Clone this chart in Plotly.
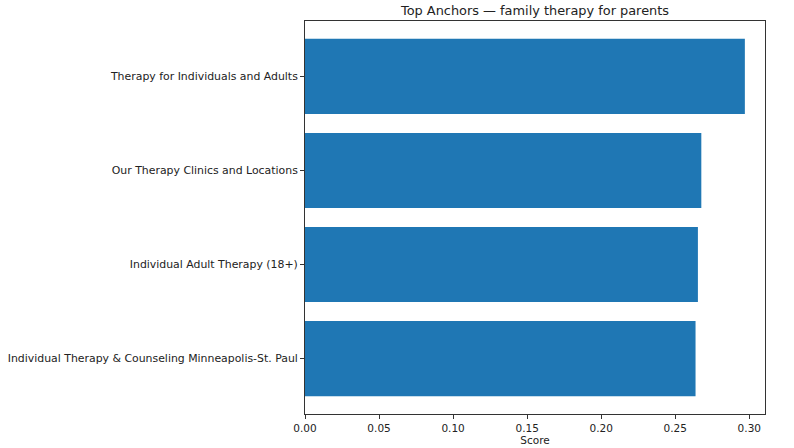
import plotly.graph_objects as go

labels = [
    "Therapy for Individuals and Adults",
    "Our Therapy Clinics and Locations",
    "Individual Adult Therapy (18+)",
    "Individual Therapy & Counseling Minneapolis-St. Paul",
]
scores = [0.2970, 0.2676, 0.2653, 0.2637]
x_ticks = [0.00, 0.05, 0.10, 0.15, 0.20, 0.25, 0.30]
title = "Top Anchors — family therapy for parents"
x_label = "Score"

font = "DejaVu Sans"
fig = go.Figure(
    go.Bar(
        x=scores,
        y=labels,
        orientation="h",
        width=0.8,
        marker=dict(color="#1f77b4", line=dict(width=0)),
    )
)
xmax = 0.3106
fig.update_layout(
    width=794,
    height=448,
    margin=dict(l=305, r=29, t=21, b=34, autoexpand=False),
    paper_bgcolor="white",
    plot_bgcolor="white",
    showlegend=False,
    font=dict(family=font, size=10, color="#222"),
    title=dict(
        text=title,
        x=(305 + 765) / 2 / 794,
        xanchor="center",
        xref="container",
        yref="container",
        y=1 - 10 / 448,
        yanchor="middle",
        automargin=False,
        font=dict(family=font, size=12.9, color="#222"),
    ),
)
fig.update_xaxes(
    range=[0, xmax],
    tickvals=x_ticks,
    tickformat=".2f",
    ticks="outside",
    ticklen=4,
    tickcolor="#333",
    showline=True,
    linecolor="#333",
    linewidth=1,
    mirror=True,
    showgrid=False,
    zeroline=False,
    automargin=False,
    tickfont=dict(size=10.5),
    title=dict(text=x_label, standoff=2, font=dict(family=font, size=10.5)),
)
fig.update_yaxes(
    range=[3.59, -0.59],
    ticks="outside",
    ticklen=4,
    tickcolor="#333",
    showline=True,
    linecolor="#333",
    linewidth=1,
    mirror=True,
    showgrid=False,
    zeroline=False,
    automargin=False,
    tickfont=dict(size=10.9),
)
fig.write_html(
    "out.html",
    config={"displayModeBar": False},
    post_script="document.body.style.margin='0';",
)
